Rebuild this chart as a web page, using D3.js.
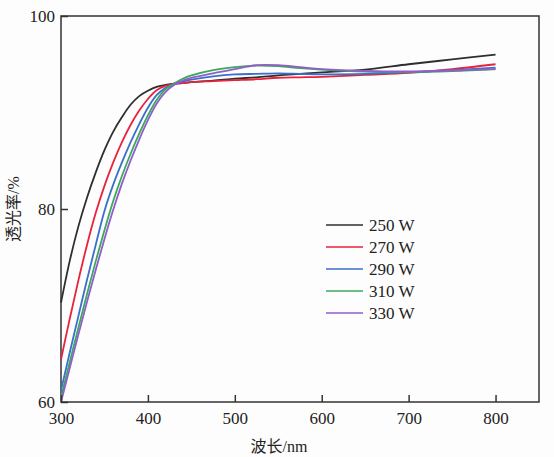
<!DOCTYPE html>
<html>
<head>
<meta charset="utf-8">
<script src="https://cdn.jsdelivr.net/npm/d3@7"></script>
<style>
  html, body { margin: 0; padding: 0; background: #fdfdfd; }
  svg { display: block; }
  text { font-family: "Liberation Serif", "Noto Sans CJK SC", serif; fill: #222; }
</style>
</head>
<body>
<svg id="chart" width="554" height="457"></svg>
<script>
// ---- data ----
const wavelengths = [300, 310, 320, 330, 340, 350, 360, 370, 380, 390, 400, 410, 420, 430, 440, 450, 475, 500, 525, 550, 575, 600, 650, 700, 750, 800];
const seriesNames = ["250 W", "270 W", "290 W", "310 W", "330 W"];
const t250 = [70.3, 74.6, 78.2, 81.2, 83.8, 86.1, 88.0, 89.5, 90.8, 91.7, 92.25, 92.65, 92.85, 93.0, 93.05, 93.15, 93.3, 93.5, 93.65, 93.85, 94.0, 94.15, 94.45, 95.0, 95.5, 96.0];
const t270 = [64.4, 68.6, 72.6, 76.3, 79.6, 82.4, 84.8, 86.9, 88.7, 90.2, 91.4, 92.3, 92.75, 92.95, 93.05, 93.15, 93.25, 93.35, 93.45, 93.6, 93.65, 93.7, 93.9, 94.1, 94.5, 95.0];
const t290 = [61.2, 65.1, 68.9, 72.7, 76.3, 79.8, 82.5, 84.8, 86.9, 88.8, 90.5, 91.8, 92.55, 92.95, 93.2, 93.4, 93.75, 93.95, 94.0, 94.05, 94.0, 93.95, 94.0, 94.15, 94.4, 94.65];
const t310 = [60.5, 64.1, 67.7, 71.2, 74.6, 77.8, 80.8, 83.4, 85.7, 87.8, 89.7, 91.3, 92.4, 93.0, 93.5, 93.85, 94.4, 94.7, 94.85, 94.8, 94.6, 94.45, 94.25, 94.2, 94.3, 94.5];
const t330 = [60.0, 63.5, 67.0, 70.4, 73.7, 76.9, 79.9, 82.6, 85.0, 87.2, 89.2, 90.9, 92.1, 92.85, 93.3, 93.6, 94.05, 94.5, 94.9, 94.9, 94.7, 94.5, 94.3, 94.25, 94.35, 94.5];
const seriesColors = ["#2e2e2e", "#e8233b", "#3b6fcc", "#3ba95b", "#8e5ec9"];
const xTicks = [300, 400, 500, 600, 700, 800];
const yTicks = [60, 80, 100];
const xTitle = "波长/nm";
const yTitle = "透光率/%";

const seriesValues = [t250, t270, t290, t310, t330];

// ---- layout ----
const svg = d3.select("#chart");
const mLeft = 61, mRight = 539, mTop = 16, mBottom = 402;

const x = d3.scaleLinear().domain([300, 850]).range([mLeft, mRight]);
const y = d3.scaleLinear().domain([60, 100]).range([mBottom, mTop]);

// frame
svg.append("rect")
  .attr("x", mLeft).attr("y", mTop)
  .attr("width", mRight - mLeft).attr("height", mBottom - mTop)
  .attr("fill", "none").attr("stroke", "#333").attr("stroke-width", 1.5);

// curves
const line = d3.line()
  .x((d, i) => x(wavelengths[i]))
  .y(d => y(d))
  .curve(d3.curveCatmullRom.alpha(0.5));

const plot = svg.append("g");
seriesValues.forEach((vals, k) => {
  plot.append("path")
    .datum(vals)
    .attr("d", line)
    .attr("fill", "none")
    .attr("stroke", seriesColors[k])
    .attr("stroke-width", 1.8)
    .attr("stroke-linejoin", "round");
});

// axes (inward ticks)
const xAxis = d3.axisBottom(x).tickValues(xTicks).tickSize(-7).tickPadding(10).tickFormat(d3.format("d"));
const gx = svg.append("g").attr("transform", `translate(0,${mBottom})`).call(xAxis);
gx.select(".domain").remove();
gx.selectAll(".tick line").attr("stroke", "#333").attr("stroke-width", 1.5);
gx.selectAll(".tick text").attr("font-size", 17).attr("fill", "#222")
  .style("font-family", "'Liberation Serif', serif");

const yAxis = d3.axisLeft(y).tickValues(yTicks).tickSize(-7).tickPadding(6).tickFormat(d3.format("d"));
const gy = svg.append("g").attr("transform", `translate(${mLeft},0)`).call(yAxis);
gy.select(".domain").remove();
gy.selectAll(".tick line").attr("stroke", "#333").attr("stroke-width", 1.5);
gy.selectAll(".tick text").attr("font-size", 17).attr("fill", "#222")
  .style("font-family", "'Liberation Serif', serif");

// axis titles
svg.append("text")
  .attr("x", 279).attr("y", 452)
  .attr("text-anchor", "middle")
  .attr("font-size", 16)
  .text(xTitle);

svg.append("text")
  .attr("transform", "translate(19,209) rotate(-90)")
  .attr("text-anchor", "middle")
  .attr("font-size", 16)
  .text(yTitle);

// legend
const legend = svg.append("g");
seriesNames.forEach((name, k) => {
  const cy = 225 + k * 22;
  legend.append("line")
    .attr("x1", 326).attr("x2", 363)
    .attr("y1", cy).attr("y2", cy)
    .attr("stroke", seriesColors[k]).attr("stroke-width", 1.7);
  legend.append("text")
    .attr("x", 369).attr("y", cy + 6)
    .attr("font-size", 17)
    .text(name);
});
</script>
</body>
</html>
